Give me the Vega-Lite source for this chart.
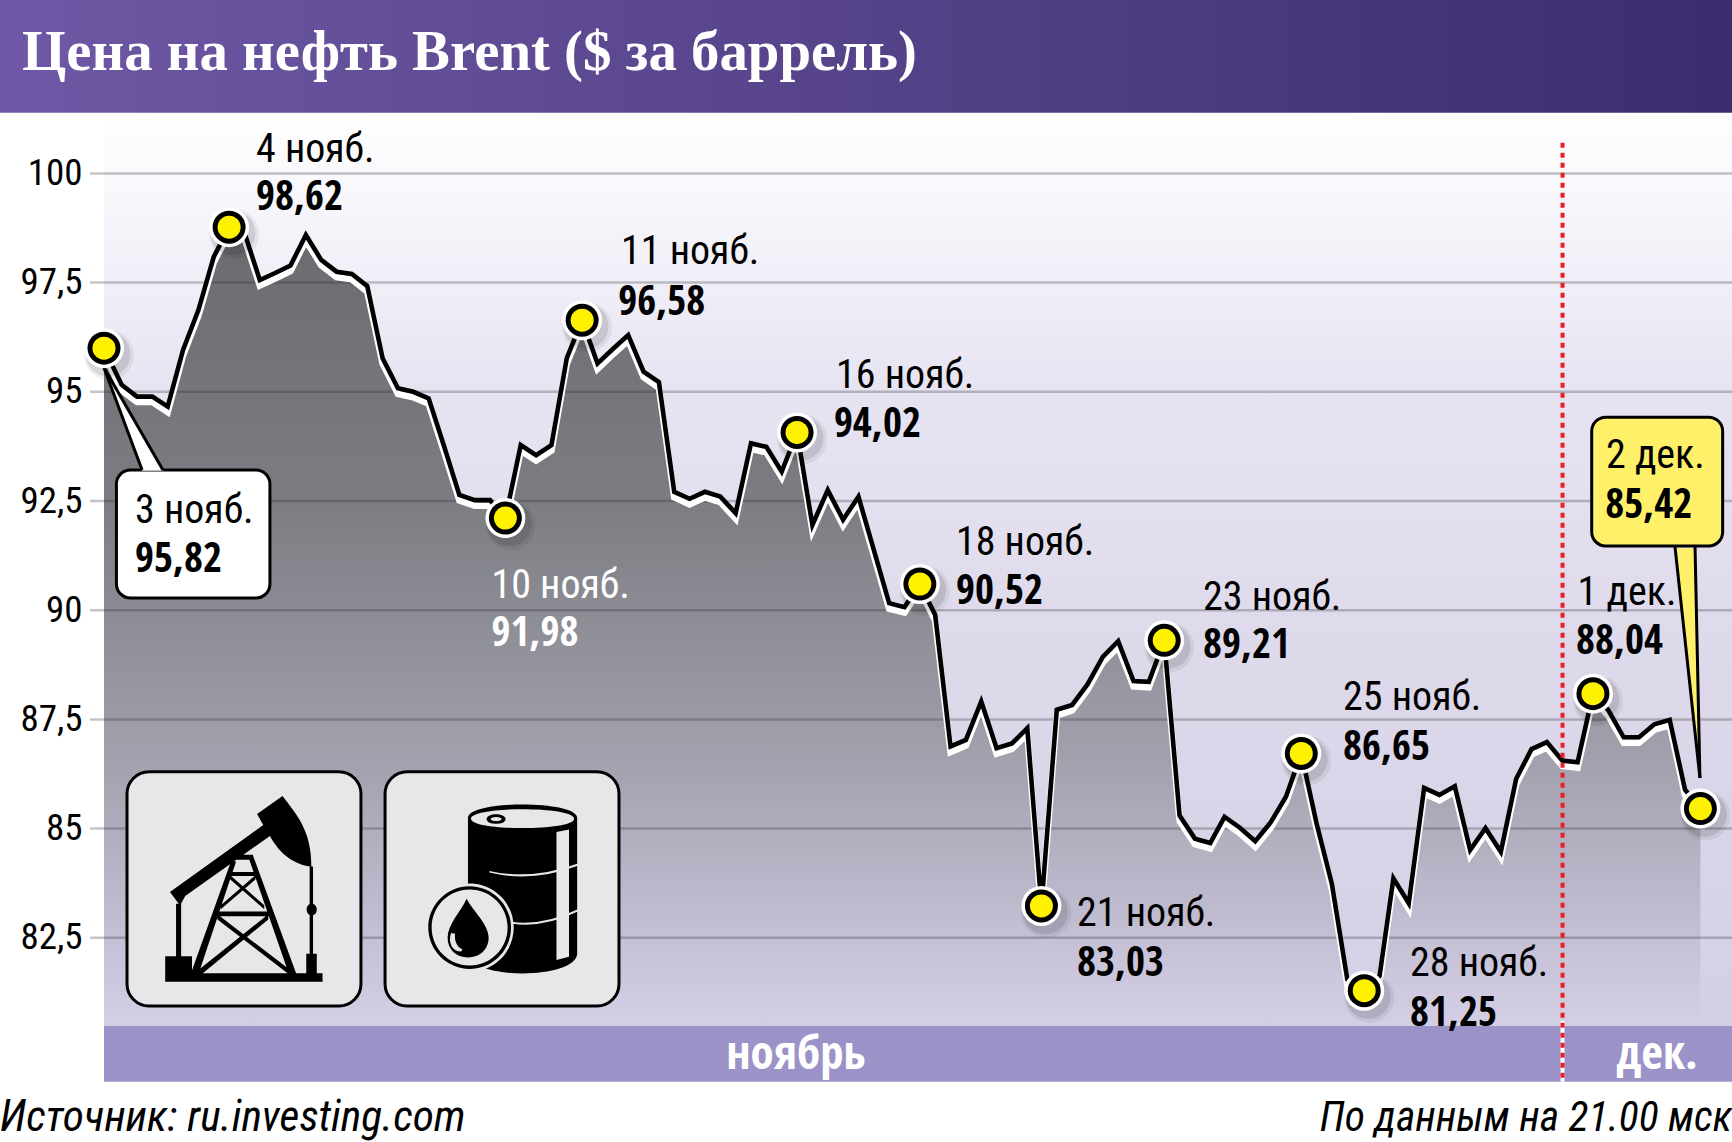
{
"$schema":"https://vega.github.io/schema/vega-lite/v6.json",
"width":1732,"height":1142,"padding":0,"autosize":{"type":"none"},"background":"#ffffff",
"config":{"view":{"stroke":null}},
"datasets":{
"series":[{"t":0,"v":96.0},{"t":1.15,"v":95.16},{"t":2.15,"v":94.89},{"t":3.15,"v":94.89},{"t":4.15,"v":94.66},{"t":5.15,"v":95.96},{"t":6.15,"v":96.87},{"t":7.15,"v":98.09},{"t":8.15,"v":98.77},{"t":9.15,"v":98.64},{"t":10.15,"v":97.56},{"t":11.15,"v":97.72},{"t":12.15,"v":97.89},{"t":13.15,"v":98.59},{"t":14.15,"v":98.02},{"t":15.15,"v":97.75},{"t":16.15,"v":97.7},{"t":17.15,"v":97.42},{"t":18.15,"v":95.77},{"t":19.15,"v":95.08},{"t":20.15,"v":95.0},{"t":21.15,"v":94.85},{"t":22.15,"v":93.76},{"t":23.15,"v":92.64},{"t":24.15,"v":92.52},{"t":25.15,"v":92.52},{"t":26.15,"v":92.11},{"t":27.15,"v":93.78},{"t":28.15,"v":93.55},{"t":29.15,"v":93.78},{"t":30.15,"v":95.77},{"t":31.15,"v":96.64},{"t":32.15,"v":95.65},{"t":33.15,"v":95.98},{"t":34.15,"v":96.3},{"t":35.15,"v":95.46},{"t":36.15,"v":95.22},{"t":37.15,"v":92.71},{"t":38.15,"v":92.55},{"t":39.15,"v":92.71},{"t":40.15,"v":92.6},{"t":41.15,"v":92.22},{"t":42.15,"v":93.82},{"t":43.15,"v":93.74},{"t":44.15,"v":93.17},{"t":45.15,"v":94.07},{"t":46.15,"v":91.95},{"t":47.15,"v":92.75},{"t":48.15,"v":92.07},{"t":49.15,"v":92.6},{"t":50.15,"v":91.38},{"t":51.15,"v":90.16},{"t":52.15,"v":90.07},{"t":53.15,"v":90.6},{"t":54.15,"v":89.89},{"t":55.15,"v":86.88},{"t":56.15,"v":87.03},{"t":57.15,"v":87.91},{"t":58.15,"v":86.84},{"t":59.15,"v":86.95},{"t":60.15,"v":87.3},{"t":61.07,"v":83.23},{"t":62.07,"v":87.72},{"t":63.07,"v":87.83},{"t":64.07,"v":88.3},{"t":65.07,"v":88.93},{"t":66.07,"v":89.29},{"t":67.07,"v":88.38},{"t":68.07,"v":88.36},{"t":69.07,"v":89.31},{"t":70.07,"v":85.3},{"t":71.07,"v":84.77},{"t":72.07,"v":84.67},{"t":73,"v":85.27},{"t":74,"v":85.02},{"t":75,"v":84.71},{"t":76,"v":85.14},{"t":77,"v":85.73},{"t":78,"v":86.72},{"t":79,"v":85.11},{"t":80,"v":83.72},{"t":81,"v":81.55},{"t":82.1,"v":81.29},{"t":83.1,"v":81.63},{"t":84,"v":83.86},{"t":85,"v":83.29},{"t":86,"v":85.93},{"t":87,"v":85.77},{"t":88,"v":85.97},{"t":89,"v":84.51},{"t":90,"v":85.01},{"t":91,"v":84.47},{"t":92,"v":86.14},{"t":93,"v":86.82},{"t":94,"v":86.98},{"t":95,"v":86.56},{"t":96,"v":86.52},{"t":97,"v":88.09},{"t":98,"v":87.71},{"t":99,"v":87.09},{"t":100,"v":87.09},{"t":101,"v":87.39},{"t":102,"v":87.49},{"t":103,"v":85.89},{"t":104,"v":85.46}],
"grid":[{"t":-0.91,"t2":106.06,"v":100},{"t":-0.91,"t2":106.06,"v":97.5},{"t":-0.91,"t2":106.06,"v":95},{"t":-0.91,"t2":106.06,"v":92.5},{"t":-0.91,"t2":106.06,"v":90},{"t":-0.91,"t2":106.06,"v":87.5},{"t":-0.91,"t2":106.06,"v":85},{"t":-0.91,"t2":106.06,"v":82.5}],
"header":[{"t":-6.775,"t2":106.06,"v":103.97,"v2":101.39}],
"plotbg":[{"t":0,"t2":106.06,"v":101.39,"v2":80.48}],
"band":[{"t":0,"t2":106.06,"v":80.48,"v2":79.205}],
"title":[{"t":-5.34,"v":102.37,"label":"Цена на нефть Brent ($ за баррель)"}],
"months":[{"t":45.08,"v":79.5,"label":"ноябрь"},{"t":101.17,"v":79.5,"label":"дек."}],
"dates":[{"t":2.02,"v":92.0,"label":"3 нояб."},{"t":9.9,"v":100.26,"label":"4 нояб."},{"t":33.68,"v":97.93,"label":"11 нояб."},{"t":47.69,"v":95.09,"label":"16 нояб."},{"t":55.5,"v":91.26,"label":"18 нояб."},{"t":63.39,"v":82.77,"label":"21 нояб."},{"t":71.6,"v":90.0,"label":"23 нояб."},{"t":80.72,"v":87.72,"label":"25 нояб."},{"t":85.08,"v":81.63,"label":"28 нояб."},{"t":96.0,"v":90.12,"label":"1 дек."},{"t":97.85,"v":93.26,"label":"2 дек."}],
"values":[{"t":2.02,"v":90.88,"label":"95,82"},{"t":9.9,"v":99.16,"label":"98,62"},{"t":33.5,"v":96.76,"label":"96,58"},{"t":47.55,"v":93.96,"label":"94,02"},{"t":55.5,"v":90.14,"label":"90,52"},{"t":63.39,"v":81.63,"label":"83,03"},{"t":71.6,"v":88.91,"label":"89,21"},{"t":80.72,"v":86.57,"label":"86,65"},{"t":85.08,"v":80.48,"label":"81,25"},{"t":95.9,"v":89.0,"label":"88,04"},{"t":97.8,"v":92.11,"label":"85,42"}],
"darkDate":[{"t":25.24,"v":90.29,"label":"10 нояб."}],
"darkValue":[{"t":25.24,"v":89.18,"label":"91,98"}],
"whiteBox":[{"t":0.81,"t2":10.81,"v":93.21,"v2":90.28}],
"yellowBox":[{"t":96.92,"t2":105.45,"v":94.42,"v2":91.47}],
"whiteTail":[{"t":0,"t2":0,"v":95.55},{"t":2.48,"t2":3.84,"v":93.19}],
"yellowTail":[{"t":102.34,"t2":103.65,"v":91.42},{"t":103.97,"t2":103.97,"v":86.16}],
"tailEdges":[{"edge":"a","t":0,"v":95.55},{"edge":"a","t":2.48,"v":93.21},{"edge":"b","t":0,"v":95.55},{"edge":"b","t":3.84,"v":93.21},{"edge":"c","t":102.34,"v":91.47},{"edge":"c","t":103.97,"v":86.16},{"edge":"d","t":103.65,"v":91.47},{"edge":"d","t":103.97,"v":86.16}],
"iconBoxes":[{"t":1.5,"t2":16.74,"v":86.3,"v2":80.94},{"t":18.31,"t2":33.55,"v":86.3,"v2":80.94}],
"icon1":[{"t":9.09,"v":83.62}],
"icon2":[{"t":25.92,"v":83.62}],
"divider":[{"t":95.02,"v":100.7,"v2":79.205}],
"dividerBand":[{"t":95.02,"v":80.6,"v2":79.205}],
"srcL":[{"t":-6.775,"v":78.08,"label":"Источник: ru.investing.com"}],
"srcR":[{"t":106.06,"v":78.08,"label":"По данным на 21.00 мск"}]
},
"encoding":{
"x":{"field":"t","type":"quantitative","scale":{"domain":[-6.775,106.059],"nice":false,"zero":false},"axis":null},
"y":{"field":"v","type":"quantitative","scale":{"domain":[77.825,103.97],"nice":false,"zero":false},
"axis":{"title":null,"orient":"left","offset":-82,"values":[82.5,85,87.5,90,92.5,95,97.5,100],"domain":false,"ticks":false,"grid":false,"labelPadding":0,"labelFont":"Roboto Condensed","labelFontSize":37,"labelColor":"#000000","labelExpr":"replace(format(datum.value,'~g'),'.',',')","zindex":1}}
},
"layer":[
{"data":{"name":"plotbg"},"mark":{"type":"rect","fill":{"x1":0,"y1":0,"x2":0,"y2":1,"gradient":"linear","stops":[{"offset":0,"color":"#ffffff"},{"offset":0.1,"color":"#f7f6fb"},{"offset":0.3,"color":"#e7e4f2"},{"offset":0.65,"color":"#dcd7e9"},{"offset":1,"color":"#d5cfe6"}]}},"encoding":{"x2":{"field":"t2"},"y2":{"field":"v2"}}},
{"data":{"name":"series"},"mark":{"type":"area","fill":{"x1":0,"y1":0,"x2":0,"y2":1,"gradient":"linear","stops":[{"offset":0,"color":"#6a6b6f"},{"offset":0.34,"color":"#7c7c82"},{"offset":0.655,"color":"#a09fab"},{"offset":0.84,"color":"#bdb9cd"},{"offset":1,"color":"#d5cfe6"}]}},"encoding":{"y2":{"datum":80.48}}},
{"data":{"name":"grid"},"mark":{"type":"rule","stroke":"#2a2a30","strokeOpacity":0.27,"strokeWidth":2.5},"encoding":{"x2":{"field":"t2"}}},
{"data":{"name":"series"},"mark":{"type":"line","stroke":"#ffffff","strokeWidth":6.5,"strokeJoin":"miter","yOffset":5.5},"encoding":{}},
{"data":{"name":"series"},"mark":{"type":"line","stroke":"#000000","strokeWidth":4.6,"strokeJoin":"miter","strokeMiterLimit":6},"encoding":{}},
{"data":{"name":"band"},"mark":{"type":"rect","fill":"#9b93c8"},"encoding":{"x2":{"field":"t2"},"y2":{"field":"v2"}}},
{"data":{"name":"header"},"mark":{"type":"rect","fill":{"x1":0,"y1":0,"x2":1,"y2":0,"gradient":"linear","stops":[{"offset":0,"color":"#6f58a5"},{"offset":1,"color":"#3b2d6d"}]}},"encoding":{"x2":{"field":"t2"},"y2":{"field":"v2"}}},
{"data":{"name":"dividerBand"},"mark":{"type":"rule","stroke":"#ffffff","strokeWidth":4},"encoding":{"y2":{"field":"v2"}}},
{"data":{"name":"divider"},"mark":{"type":"rule","stroke":"#ed1c24","strokeWidth":4,"strokeDash":[5,5]},"encoding":{"y2":{"field":"v2"}}},
{"data":{"name":"iconBoxes"},"mark":{"type":"rect","fill":"#e6e7e8","stroke":"#000000","strokeWidth":3,"cornerRadius":22},"encoding":{"x2":{"field":"t2"},"y2":{"field":"v2"}}},
{"data":{"name":"icon1"},"mark":{"type":"point","filled":true,"opacity":1,"color":"#000000","size":0.46,"shape":"M-217 9 L58 -188 L40 -221 L115 -274 C160 -215 200 -170 200 -66 C150 -70 105 -105 78 -156 L-172 21 L-187 49 Z M-199 44 L-184 44 L-184 204 L-199 204 Z M-231 199 L-152 199 L-152 274 L-231 274 Z M-231 249 L233 249 L233 274 L-231 274 Z M185 191 L216 191 L216 249 L185 249 Z M195 -66 L205 -66 L205 191 L195 191 Z M186 61 C186 38 216 38 216 61 C216 84 186 84 186 61 Z M-37 -81 L-22 -81 L-132 249 L-155 249 Z M13 -98 L28 -98 L155 249 L133 249 Z M-32 -101 L28 -101 L28 -86 L-32 -86 Z M-47 -50 L38 -50 L38 -38 L-47 -38 Z M-82 67 L78 67 L78 81 L-82 81 Z M-39 -40 L61 48 L61 60 L-39 -28 Z M35 -40 L35 -28 L-67 60 L-67 48 Z M-77 75 L150 249 L130 249 L-77 90 Z M73 75 L73 90 L-120 249 L-145 249 Z"},"encoding":{}},
{"data":{"name":"icon2"},"mark":{"type":"point","filled":true,"opacity":1,"color":"#000000","size":0.46,"shape":"M-100 -209 C-100 -262 222 -262 222 -209 L222 190 C222 269 -100 269 -100 190 Z"},"encoding":{}},
{"data":{"name":"icon2"},"mark":{"type":"point","filled":true,"opacity":1,"color":"#e6e7e8","size":0.46,"shape":"M-91 -207 C-91 -244 213 -244 213 -207 C213 -170 -91 -170 -91 -207 Z M161 -168 L198 -175 L198 200 L161 210 Z M-37 -53 Q90 -25 224 -75 L224 -68 Q90 -18 -37 -48 Z M28 97 Q120 110 224 60 L224 67 Q120 117 28 102 Z M-225 114 C-225 42 -167 -16 -95 -16 C-23 -16 35 42 35 114 C35 186 -23 244 -95 244 C-167 244 -225 186 -225 114 Z"},"encoding":{}},
{"data":{"name":"icon2"},"mark":{"type":"point","filled":true,"opacity":1,"color":"#000000","size":0.46,"shape":"M-217 114 C-217 47 -162 -8 -95 -8 C-28 -8 27 47 27 114 C27 181 -28 236 -95 236 C-162 236 -217 181 -217 114 Z M-45 -206 C-45 -225 11 -225 11 -206 C11 -187 -45 -187 -45 -206 Z"},"encoding":{}},
{"data":{"name":"icon2"},"mark":{"type":"point","filled":true,"opacity":1,"color":"#e6e7e8","size":0.46,"shape":"M-207 114 C-207 52 -157 2 -95 2 C-33 2 17 52 17 114 C17 176 -33 226 -95 226 C-157 226 -207 176 -207 114 Z M-33 -206 C-33 -214 -1 -214 -1 -206 C-1 -198 -33 -198 -33 -206 Z"},"encoding":{}},
{"data":{"name":"icon2"},"mark":{"type":"point","filled":true,"opacity":1,"color":"#000000","size":0.46,"shape":"M-104 29 C-85 65 -39 105 -39 144 C-39 178 -65 202 -100 202 C-135 202 -160 178 -160 144 C-160 105 -120 65 -104 29 Z"},"encoding":{}},
{"data":{"name":"icon2"},"mark":{"type":"point","filled":true,"opacity":1,"color":"#e6e7e8","size":0.46,"shape":"M-150 130 C-160 160 -145 185 -120 185 L-116 178 C-135 170 -140 150 -138 132 Z"},"encoding":{}},
{"data":{"name":"whiteBox"},"mark":{"type":"rect","fill":"#ffffff","stroke":"#000000","strokeWidth":3,"cornerRadius":14},"encoding":{"x2":{"field":"t2"},"y2":{"field":"v2"}}},
{"data":{"name":"yellowBox"},"mark":{"type":"rect","fill":"#fff06a","stroke":"#000000","strokeWidth":3,"cornerRadius":14},"encoding":{"x2":{"field":"t2"},"y2":{"field":"v2"}}},
{"data":{"name":"whiteTail"},"mark":{"type":"area","orient":"horizontal","fill":"#ffffff"},"encoding":{"x2":{"field":"t2"}}},
{"data":{"name":"yellowTail"},"mark":{"type":"area","orient":"horizontal","fill":"#fff06a"},"encoding":{"x2":{"field":"t2"}}},
{"data":{"name":"tailEdges"},"mark":{"type":"line","stroke":"#000000","strokeWidth":3},"encoding":{"detail":{"field":"edge"}}},
{"data":{"name":"series"},"transform":[{"filter":{"field":"t","oneOf":[0,8.15,26.15,31.15,45.15,53.15,61.07,69.07,78,82.1,97,104]}}],"mark":{"type":"point","filled":true,"opacity":0.06,"color":"#000000","size":2500,"xOffset":5,"yOffset":7},"encoding":{}},
{"data":{"name":"series"},"transform":[{"filter":{"field":"t","oneOf":[0,8.15,26.15,31.15,45.15,53.15,61.07,69.07,78,82.1,97,104]}}],"mark":{"type":"point","filled":true,"opacity":0.1,"color":"#000000","size":2000,"xOffset":4,"yOffset":6},"encoding":{}},
{"data":{"name":"series"},"transform":[{"filter":{"field":"t","oneOf":[0,8.15,26.15,31.15,45.15,53.15,61.07,69.07,78,82.1,97,104]}}],"mark":{"type":"point","filled":true,"opacity":1,"color":"#ffffff","size":1600},"encoding":{}},
{"data":{"name":"series"},"transform":[{"filter":{"field":"t","oneOf":[0,8.15,26.15,31.15,45.15,53.15,61.07,69.07,78,82.1,97,104]}}],"mark":{"type":"point","filled":true,"opacity":1,"color":"#000000","size":1089},"encoding":{}},
{"data":{"name":"series"},"transform":[{"filter":{"field":"t","oneOf":[0,8.15,26.15,31.15,45.15,53.15,61.07,69.07,78,82.1,97,104]}}],"mark":{"type":"point","filled":true,"opacity":1,"color":"#fff200","size":529},"encoding":{}},
{"data":{"name":"title"},"mark":{"type":"text","align":"left","baseline":"alphabetic","font":"Liberation Serif","fontWeight":"bold","fontSize":56.8,"fill":"#ffffff"},"encoding":{"text":{"field":"label"}}},
{"data":{"name":"months"},"mark":{"type":"text","align":"center","baseline":"alphabetic","font":"Open Sans Condensed","fontWeight":"bold","fontSize":47,"fill":"#ffffff"},"encoding":{"text":{"field":"label"}}},
{"data":{"name":"dates"},"mark":{"type":"text","align":"left","baseline":"alphabetic","font":"Roboto Condensed","fontSize":40,"fill":"#000000"},"encoding":{"text":{"field":"label"}}},
{"data":{"name":"values"},"mark":{"type":"text","align":"left","baseline":"alphabetic","font":"Open Sans Condensed","fontWeight":"bold","fontSize":41,"fill":"#000000"},"encoding":{"text":{"field":"label"}}},
{"data":{"name":"darkDate"},"mark":{"type":"text","align":"left","baseline":"alphabetic","font":"Roboto Condensed","fontSize":40,"fill":"#ffffff"},"encoding":{"text":{"field":"label"}}},
{"data":{"name":"darkValue"},"mark":{"type":"text","align":"left","baseline":"alphabetic","font":"Open Sans Condensed","fontWeight":"bold","fontSize":41,"fill":"#ffffff"},"encoding":{"text":{"field":"label"}}},
{"data":{"name":"srcL"},"mark":{"type":"text","align":"left","baseline":"alphabetic","font":"Roboto Condensed","fontStyle":"italic","fontSize":43.5,"fill":"#000000"},"encoding":{"text":{"field":"label"}}},
{"data":{"name":"srcR"},"mark":{"type":"text","align":"right","baseline":"alphabetic","font":"Roboto Condensed","fontStyle":"italic","fontSize":41.5,"fill":"#000000"},"encoding":{"text":{"field":"label"}}}
]
}
